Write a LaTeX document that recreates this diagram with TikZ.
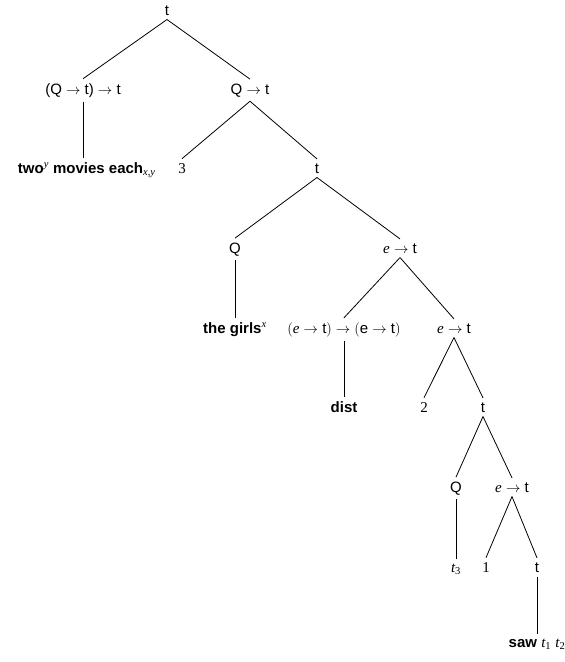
\documentclass[tikz,border=0pt]{standalone}
\usepackage{fontspec}
\setmainfont{Liberation Sans}
\newfontfamily\tms{Liberation Serif}
\usetikzlibrary{positioning}

\newcommand{\mi}[1]{{\tms\itshape #1}}
\newcommand{\nm}[1]{{\tms #1}}
\newcommand{\ar}{$\rightarrow$}

\begin{document}
\begin{tikzpicture}[
  x=1pt, y=-1pt, line width=0.8pt,
  cat/.style={anchor=base, inner sep=4pt, font=\fontsize{15}{18}\selectfont},
  leaf/.style={cat, font=\fontsize{15}{18}\selectfont}
]
  \useasboundingbox (0,0) rectangle (565,662);

  \node[cat] (root) at (167, 15) {t};
  \node[cat] (qtt) at (83, 94) {(Q \ar{} t) \ar{} t};
  \node[cat] (qt) at (250, 94) {Q \ar{} t};
  \node[leaf, anchor=base east] (two) at (160, 173) {\textbf{two}\textsuperscript{\mi{y}} \textbf{movies each}\textsubscript{\mi{x,y}}};
  \node[cat] (three) at (182, 173) {\nm{3}};
  \node[cat] (tA) at (317, 173) {t};
  \node[cat] (qA) at (235, 253) {Q};
  \node[cat] (etA) at (400, 253) {\mi{e} \ar{} t};
  \node[leaf] (girls) at (235, 333) {\textbf{the girls}\textsuperscript{\mi{x}}};
  \node[cat] (dtype) at (344, 333) {$($\mi{e} \ar{} t$)\rightarrow($e \ar{} t$)$};
  \node[cat] (etB) at (454, 333) {\mi{e} \ar{} t};
  \node[leaf] (dist) at (344, 412) {\textbf{dist}};
  \node[cat] (twoB) at (424, 412) {\nm{2}};
  \node[cat] (tB) at (483, 412) {t};
  \node[cat] (qB) at (456, 492) {Q};
  \node[cat] (etC) at (512, 492) {\mi{e} \ar{} t};
  \node[cat] (tthree) at (456, 572) {\mi{t}\textsubscript{\nm{3}}};
  \node[cat] (one) at (486, 572) {\nm{1}};
  \node[cat] (tC) at (537, 572) {t};
  \node[leaf] (saw) at (537, 647) {\textbf{saw} \mi{t}\textsubscript{\nm{1}} \mi{t}\textsubscript{\nm{2}}};

  \draw (root.south) -- (qtt.north);
  \draw (root.south) -- (qt.north);
  \draw (qtt.south) -- (qtt.south |- two.north);
  \draw (qt.south) -- (three.north);
  \draw (qt.south) -- (tA.north);
  \draw (tA.south) -- (qA.north);
  \draw (tA.south) -- (etA.north);
  \draw (qA.south) -- (girls.north);
  \draw (etA.south) -- (dtype.north);
  \draw (etA.south) -- (etB.north);
  \draw (dtype.south) -- (dist.north);
  \draw (etB.south) -- (twoB.north);
  \draw (etB.south) -- (tB.north);
  \draw (tB.south) -- (qB.north);
  \draw (tB.south) -- (etC.north);
  \draw (qB.south) -- (tthree.north);
  \draw (etC.south) -- (one.north);
  \draw (etC.south) -- (tC.north);
  \draw (tC.south) -- (saw.north);
\end{tikzpicture}
\end{document}
